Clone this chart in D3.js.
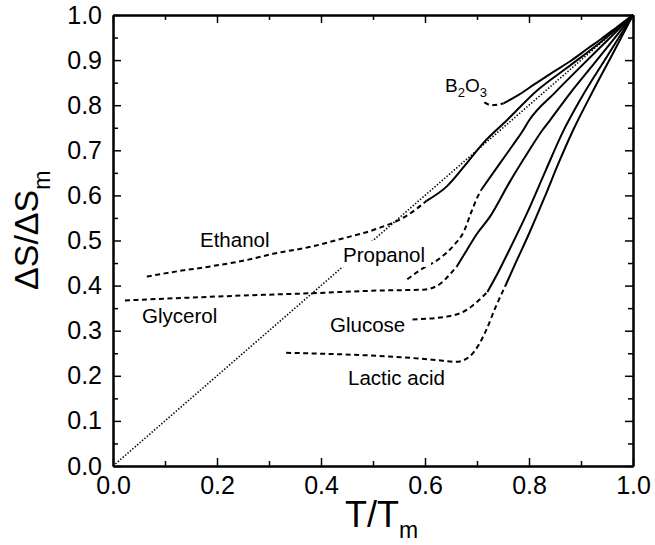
<!DOCTYPE html>
<html>
<head>
<meta charset="utf-8">
<script src="https://cdn.jsdelivr.net/npm/d3@7"></script>
<style>
  body { margin: 0; background: #fff; }
  text { font-family: "Liberation Sans", Arial, sans-serif; fill: #000; }
</style>
</head>
<body>
<svg id="chart" width="655" height="545"></svg>
<script>
// values: [T/Tm, dS/dSm]
const diagonal = [[0, 0], [1, 1]];

const b2o3Dashed = [[0.714, 0.806], [0.728, 0.800], [0.751, 0.804]];
const b2o3Solid = [[0.751, 0.804], [0.78, 0.823], [0.81, 0.846], [0.847, 0.874], [0.88, 0.898], [0.911, 0.924], [0.94, 0.948], [0.97, 0.974], [1, 1]];

const ethanolDashed = [[0.065, 0.42], [0.12, 0.431], [0.19, 0.443], [0.25, 0.455], [0.31, 0.471], [0.38, 0.486], [0.44, 0.504], [0.51, 0.527], [0.565, 0.555], [0.603, 0.588]];
const ethanolSolid = [[0.603, 0.588], [0.642, 0.62], [0.68, 0.671], [0.712, 0.716], [0.757, 0.766], [0.815, 0.832], [0.879, 0.888], [0.94, 0.942], [1, 1]];

const propanolDashed = [[0.566, 0.414], [0.59, 0.434], [0.628, 0.46], [0.656, 0.49], [0.676, 0.523], [0.688, 0.56], [0.70, 0.594], [0.708, 0.612]];
const propanolSolid = [[0.708, 0.612], [0.725, 0.64], [0.744, 0.671], [0.768, 0.71], [0.789, 0.745], [0.80, 0.766], [0.85, 0.828], [0.90, 0.886], [0.95, 0.943], [1, 1]];

const glycerolDashed = [[0.023, 0.367], [0.12, 0.372], [0.25, 0.378], [0.38, 0.383], [0.51, 0.389], [0.597, 0.391], [0.628, 0.403], [0.648, 0.425], [0.661, 0.442]];
const glycerolSolid = [[0.661, 0.442], [0.68, 0.478], [0.70, 0.515], [0.725, 0.553], [0.763, 0.63], [0.795, 0.69], [0.826, 0.745], [0.84, 0.766], [0.88, 0.828], [0.92, 0.885], [0.96, 0.942], [1, 1]];

const glucoseDashed = [[0.576, 0.325], [0.64, 0.331], [0.68, 0.346], [0.704, 0.368], [0.72, 0.386]];
const glucoseSolid = [[0.72, 0.386], [0.74, 0.428], [0.76, 0.474], [0.796, 0.56], [0.832, 0.655], [0.864, 0.738], [0.9, 0.815], [0.95, 0.908], [1, 1]];

const lacticDashed = [[0.333, 0.251], [0.43, 0.248], [0.557, 0.241], [0.621, 0.235], [0.66, 0.231], [0.685, 0.242], [0.703, 0.268], [0.718, 0.302], [0.736, 0.353], [0.754, 0.398]];
const lacticSolid = [[0.754, 0.398], [0.775, 0.452], [0.8, 0.515], [0.83, 0.596], [0.857, 0.672], [0.885, 0.745], [0.92, 0.825], [0.96, 0.912], [1, 1]];

const xMajor = [0, 0.2, 0.4, 0.6, 0.8, 1.0];
const xMinor = [0.1, 0.3, 0.5, 0.7, 0.9];
const yMajor = [0, 0.1, 0.2, 0.3, 0.4, 0.5, 0.6, 0.7, 0.8, 0.9, 1.0];
const yMinor = [0.05, 0.15, 0.25, 0.35, 0.45, 0.55, 0.65, 0.75, 0.85, 0.95];

const svg = d3.select('#chart');
const width = +svg.attr('width');
const height = +svg.attr('height');
const margin = {top: 15, right: 22, bottom: 79, left: 113};
const innerWidth = width - margin.left - margin.right;
const innerHeight = height - margin.top - margin.bottom;

const xScale = d3.scaleLinear().domain([0, 1]).range([0, innerWidth]);
const yScale = d3.scaleLinear().domain([0, 1]).range([innerHeight, 0]);

const g = svg.append('g').attr('transform', 'translate(' + margin.left + ',' + margin.top + ')');

const line = d3.line()
    .x(d => xScale(d[0]))
    .y(d => yScale(d[1]))
    .curve(d3.curveMonotoneX);

const fmt = d3.format('.1f');

// axes, ticks pointing inward
const styleAxis = sel => {
    sel.select('.domain').attr('stroke-width', 2);
    sel.selectAll('.tick line').attr('stroke-width', 1.5);
    sel.selectAll('text').style('font-size', '25px').attr('fill', '#000');
};
// axes that only carry ticks: drop their empty labels
const bareAxis = sel => {
    styleAxis(sel);
    sel.selectAll('text').remove();
};

g.append('g').attr('transform', 'translate(0,' + innerHeight + ')')
    .call(d3.axisBottom(xScale).tickValues(xMajor).tickFormat(fmt).tickSize(-8).tickSizeOuter(0).tickPadding(10))
    .call(styleAxis);
g.append('g').attr('transform', 'translate(0,' + innerHeight + ')')
    .call(d3.axisBottom(xScale).tickValues(xMinor).tickSize(-5).tickSizeOuter(0))
    .call(bareAxis);
g.append('g')
    .call(d3.axisTop(xScale).tickValues(xMajor).tickSize(-8).tickSizeOuter(0))
    .call(bareAxis);
g.append('g')
    .call(d3.axisTop(xScale).tickValues(xMinor).tickSize(-5).tickSizeOuter(0))
    .call(bareAxis);

g.append('g')
    .call(d3.axisLeft(yScale).tickValues(yMajor).tickFormat(fmt).tickSize(-8).tickSizeOuter(0).tickPadding(11))
    .call(styleAxis);
g.append('g')
    .call(d3.axisLeft(yScale).tickValues(yMinor).tickSize(-5).tickSizeOuter(0))
    .call(bareAxis);
g.append('g').attr('transform', 'translate(' + innerWidth + ',0)')
    .call(d3.axisRight(yScale).tickValues(yMajor).tickSize(-8).tickSizeOuter(0))
    .call(bareAxis);
g.append('g').attr('transform', 'translate(' + innerWidth + ',0)')
    .call(d3.axisRight(yScale).tickValues(yMinor).tickSize(-5).tickSizeOuter(0))
    .call(bareAxis);

// dotted diagonal
g.append('path')
    .datum(diagonal)
    .attr('d', line)
    .attr('fill', 'none')
    .attr('stroke', '#000')
    .attr('stroke-width', 1.6)
    .attr('stroke-dasharray', '1.4,1.8');

// white box behind "Propanol" breaks the diagonal like in the figure
svg.append('rect')
    .attr('x', 339).attr('y', 241)
    .attr('width', 92).attr('height', 26)
    .attr('fill', '#fff');

const dashedSets = [b2o3Dashed, ethanolDashed, propanolDashed, glycerolDashed, glucoseDashed, lacticDashed];
const solidSets = [b2o3Solid, ethanolSolid, propanolSolid, glycerolSolid, glucoseSolid, lacticSolid];

g.selectAll('path.dashed')
    .data(dashedSets)
    .enter()
    .append('path')
    .attr('class', 'dashed')
    .attr('d', line)
    .attr('fill', 'none')
    .attr('stroke', '#000')
    .attr('stroke-width', 2)
    .attr('stroke-dasharray', '5,3.5');

g.selectAll('path.solid')
    .data(solidSets)
    .enter()
    .append('path')
    .attr('class', 'solid')
    .attr('d', line)
    .attr('fill', 'none')
    .attr('stroke', '#000')
    .attr('stroke-width', 2);

// curve labels
const labels = [
    {t: 'Ethanol', x: 200, y: 246.5},
    {t: 'Propanol', x: 343, y: 262},
    {t: 'Glycerol', x: 142, y: 323},
    {t: 'Glucose', x: 330, y: 331.5},
    {t: 'Lactic acid', x: 348, y: 385}
];
svg.selectAll('text.lab')
    .data(labels)
    .enter()
    .append('text')
    .attr('class', 'lab')
    .attr('x', d => d.x)
    .attr('y', d => d.y)
    .style('font-size', '20.5px')
    .text(d => d.t);

const b2o3 = svg.append('text').attr('x', 445).attr('y', 91.5).style('font-size', '19px');
b2o3.append('tspan').text('B');
b2o3.append('tspan').attr('dy', 5).style('font-size', '13px').text('2');
b2o3.append('tspan').attr('dy', -5).text('O');
b2o3.append('tspan').attr('dy', 5).style('font-size', '13px').text('3');

// axis titles
const xt = svg.append('text').attr('x', 345).attr('y', 527).style('font-size', '36px');
xt.append('tspan').text('T/T');
xt.append('tspan').attr('dy', 11).style('font-size', '23px').text('m');

const yt = svg.append('text').attr('transform', 'translate(38,290) rotate(-90)').style('font-size', '34px');
yt.append('tspan').text('ΔS/ΔS');
yt.append('tspan').attr('dy', 12).style('font-size', '23px').text('m');
</script>
</body>
</html>
